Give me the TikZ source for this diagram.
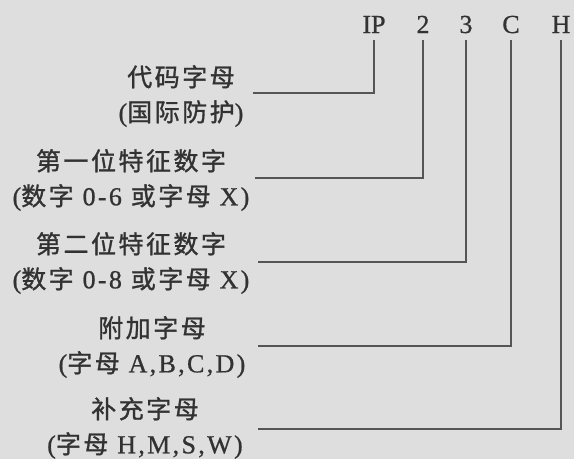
\documentclass[tikz,border=0pt]{standalone}
\usepackage{fontspec}
\setmainfont{Liberation Serif}
\newfontfamily\cjk[LetterSpace=10,FakeBold=1.2]{Noto Sans CJK SC}
\newfontfamily\lat[LetterSpace=9,FakeBold=0.8]{Liberation Serif}
\newfontfamily\codefont[FakeBold=0.8]{Liberation Serif}
\definecolor{bgc}{RGB}{222,222,222}
\definecolor{ink}{RGB}{50,50,50}
\definecolor{wire}{RGB}{85,85,85}
\newcommand{\zh}[1]{{\fontsize{25}{35}\selectfont\cjk #1}}
\begin{document}
\begin{tikzpicture}[x=1pt,y=-1pt,
  code/.style={font=\fontsize{26}{26}\selectfont\codefont, text=ink, inner sep=0pt, anchor=base},
  lbl/.style={font=\fontsize{26}{35}\selectfont\lat, text=ink, align=center, inner sep=0pt},
  wire/.style={draw=wire, line width=1.1pt}]
\fill[bgc] (0,0) rectangle (574,459);
\useasboundingbox (0,0) rectangle (574,459);
% top code letters
\node[code] (ip) at (374,33) {IP};
\node[code] (d2) at (423,33) {2};
\node[code] (d3) at (466,33) {3};
\node[code] (c)  at (511,33) {C};
\node[code] (h)  at (561,33) {H};
% labels
\node[lbl] (l1) at (181,96) {\zh{代码字母}\\(\zh{国际防护})};
\node[lbl] (l2) at (131,180) {\zh{第一位特征数字}\\(\zh{数字} 0-6 \zh{或字母} X)};
\node[lbl] (l3) at (131,263) {\zh{第二位特征数字}\\(\zh{数字} 0-8 \zh{或字母} X)};
\node[lbl] (l4) at (152,347) {\zh{附加字母}\\(\zh{字母} A,B,C,D)};
\node[lbl] (l5) at (145,428) {\zh{补充字母}\\(\zh{字母} H,M,S,W)};
% connector ends
\coordinate (e1) at (253,93);
\coordinate (e2) at (255,178);
\coordinate (e3) at (258,262);
\coordinate (e4) at (258,346);
\coordinate (e5) at (258,429);
\draw[wire] ([yshift=-7pt]ip.south) |- (e1);
\draw[wire] ([yshift=-7pt]d2.south) |- (e2);
\draw[wire] ([yshift=-7pt]d3.south) |- (e3);
\draw[wire] ([yshift=-7pt]c.south) |- (e4);
\draw[wire] ([yshift=-7pt]h.south) |- (e5);
\end{tikzpicture}
\end{document}
